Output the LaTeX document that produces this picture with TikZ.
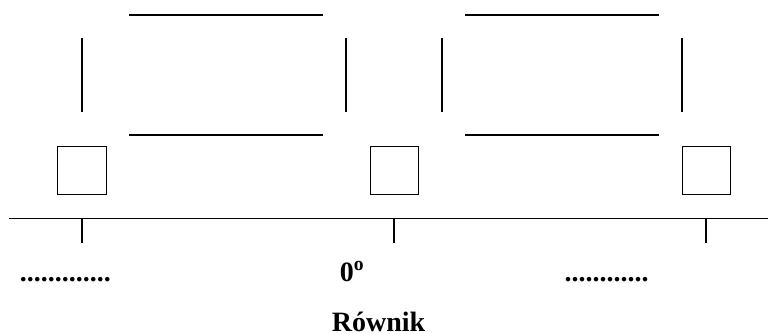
\documentclass[tikz,border=0pt]{standalone}
\usepackage{fontspec}
\setmainfont{Liberation Serif}
\begin{document}
\begin{tikzpicture}[x=0.75pt,y=-0.75pt,
  ln/.style={line width=1pt},
  sq/.style={draw,line width=1pt,minimum size=36.4pt,inner sep=0pt},
  lbl/.style={inner sep=0pt,anchor=base,font=\fontsize{21}{25}\selectfont\bfseries}]
\useasboundingbox (0,0) rectangle (768,333);
% upper frames
\draw[ln] (129,15) -- (323,15);
\draw[ln] (129,135) -- (323,135);
\draw[ln] (82,38) -- (82,112);
\draw[ln] (346,38) -- (346,112);
\draw[ln] (465,15) -- (659,15);
\draw[ln] (465,135) -- (659,135);
\draw[ln] (442,38) -- (442,112);
\draw[ln] (682,38) -- (682,112);
% squares
\node[sq] (s1) at (82,170.5) {};
\node[sq] (s2) at (394.5,170.5) {};
\node[sq] (s3) at (706.5,170.5) {};
% axis and ticks
\coordinate (a0) at (9,218.5);
\coordinate (a1) at (768,218.5);
\draw[ln] (a0) -- (a1);
\draw[ln] (82,218.5) -- (82,243);
\draw[ln] (394,218.5) -- (394,243);
\draw[ln] (706,218.5) -- (706,243);
% labels
\node[lbl] (l1) at (65.5,281) {.............};
\node[lbl] (l2) at (352,281) {0\textsuperscript{o}};
\node[lbl] (l3) at (606.5,281) {............};
\node[lbl] (l4) at (378.5,331) {Równik};
\end{tikzpicture}
\end{document}
